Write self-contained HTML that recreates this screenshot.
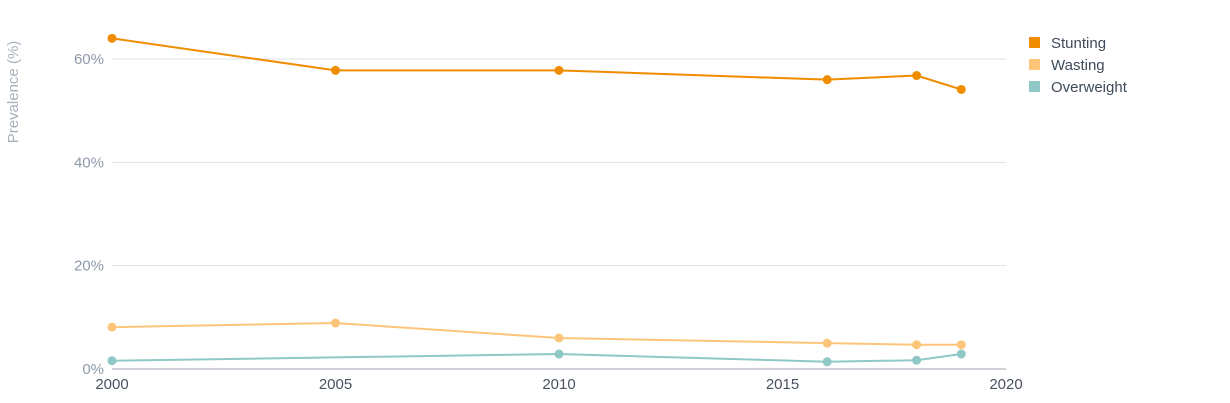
<!DOCTYPE html>
<html><head><meta charset="utf-8">
<style>
html,body{margin:0;padding:0;background:#fff;width:1230px;height:403px;overflow:hidden}
svg{display:block;font-family:"Liberation Sans",sans-serif}
</style></head>
<body>
<svg id="chart" width="1230" height="403" viewBox="0 0 1230 403"></svg>
<script>
const years = [2000, 2005, 2010, 2016, 2018, 2019];
const stunting = [64.0, 57.8, 57.8, 56.0, 56.8, 54.1];
const wasting = [8.1, 8.9, 6.0, 5.0, 4.7, 4.7];
const overweightYears = [2000, 2010, 2016, 2018, 2019];
const overweight = [1.6, 2.9, 1.4, 1.7, 2.9];
const yTicks = [0, 20, 40, 60];
const yTickLabels = ["0%", "20%", "40%", "60%"];
const xTicks = [2000, 2005, 2010, 2015, 2020];
const seriesNames = ["Stunting", "Wasting", "Overweight"];
const colors = ["#f08c00", "#fcc57a", "#8fc8c4"];

const NS = "http://www.w3.org/2000/svg";
const svg = document.getElementById("chart");
const x = y => 112 + (y - 2000) * (1006 - 112) / 20;
const yS = v => 369 - v * (369 - 59) / 60;
function mk(tag, attrs, parent) {
  const e = document.createElementNS(NS, tag);
  for (const k in attrs) e.setAttribute(k, attrs[k]);
  (parent || svg).appendChild(e);
  return e;
}
yTicks.forEach((t, i) => {
  if (t > 0) {
    const g = mk("line", {x1: 112, x2: 1006, y1: yS(t), y2: yS(t), stroke: "#dde1e6", "stroke-width": 1});
    
    
  }
  const tx = mk("text", {x: 104, y: yS(t) + 5, "text-anchor": "end", fill: "#8e99a8", "font-size": 15});
  tx.textContent = yTickLabels[i];
  
  
});
const ax = mk("line", {x1: 112, x2: 1006, y1: 369, y2: 369, stroke: "#9aa5b1", "stroke-width": 1});


xTicks.forEach(t => {
  const tx = mk("text", {x: x(t), y: 389, "text-anchor": "middle", fill: "#4a5260", "font-size": 15});
  tx.textContent = t;
  
  
});
const yt = mk("text", {x: 18, y: 92, "text-anchor": "middle", fill: "#a7b0bc", "font-size": 15, transform: "rotate(-90 18 92)"});
yt.textContent = "Prevalence (%)";



function series(xs, vs, color, name) {
  const pts = xs.map((yr, i) => x(yr) + "," + yS(vs[i])).join(" ");
  const pl = mk("polyline", {points: pts, fill: "none", stroke: color, "stroke-width": 2});
  
  
  xs.forEach((yr, i) => {
    const c = mk("circle", {cx: x(yr), cy: yS(vs[i]), r: 4.5, fill: color});
    
    
  });
}
series(overweightYears, overweight, colors[2], "overweight");
series(years, wasting, colors[1], "wasting");
series(years, stunting, colors[0], "stunting");

seriesNames.forEach((n, i) => {
  const yy = 43 + i * 22;
  const r = mk("rect", {x: 1029, y: yy - 6, width: 11, height: 11, fill: colors[i]});
  
  
  const t = mk("text", {x: 1051, y: yy + 5, fill: "#3f4a5a", "font-size": 15});
  t.textContent = n;
  
  
});
</script>
</body></html>
